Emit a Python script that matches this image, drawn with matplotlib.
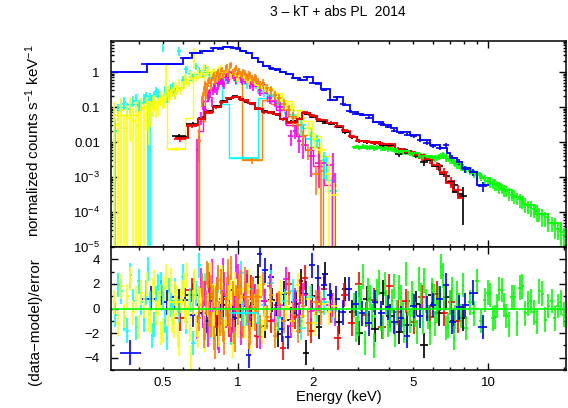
import numpy as np
import matplotlib
matplotlib.use('Agg')
import matplotlib.pyplot as plt
from matplotlib.ticker import FixedLocator, FixedFormatter, NullFormatter, MultipleLocator, FuncFormatter

plt.rcParams['font.family'] = ['Liberation Sans', 'DejaVu Sans']
plt.rcParams['mathtext.fontset'] = 'custom'
plt.rcParams['mathtext.rm'] = 'Liberation Sans'
plt.rcParams['mathtext.it'] = 'Liberation Sans:italic'
plt.rcParams['mathtext.default'] = 'regular'

# pgplot colour table
cols = {'black': '#000000', 'red': '#ff0000', 'green': '#00ff00', 'blue': '#0000ff',
        'cyan': '#00ffff', 'magenta': '#ff00ff', 'yellow': '#ffff00', 'orange': '#ff8000'}

## data: energy (keV), normalized counts, relative error, residual (data-model)/error

black_e = [0.58, 0.66, 0.72, 0.77, 0.82, 0.87, 0.92, 0.97, 1.03, 1.08,
           1.13, 1.20, 1.28, 1.36, 1.44, 1.52, 1.62, 1.70, 1.78, 1.87,
           1.98, 2.10, 2.22, 2.36, 2.52, 2.68, 2.86, 3.05, 3.28, 3.52,
           3.78, 4.05, 4.40, 4.75, 5.15, 5.55, 5.95, 6.35, 6.8, 7.3, 7.9]
black_f = [0.0150, 0.033, 0.050, 0.075, 0.105, 0.15, 0.175, 0.20, 0.17, 0.14,
           0.12, 0.088, 0.075, 0.070, 0.060, 0.046, 0.038, 0.040, 0.048, 0.064,
           0.053, 0.043, 0.036, 0.033, 0.029, 0.019, 0.0135, 0.0110, 0.0100, 0.0092,
           0.0078, 0.0082, 0.0045, 0.0055, 0.0042, 0.0026, 0.0030, 0.0020, 0.0011, 6.0e-4, 2.8e-4]
black_err = [0.15, 0.12, 0.10, 0.08, 0.07, 0.06, 0.06, 0.05, 0.05, 0.06,
             0.06, 0.07, 0.07, 0.07, 0.08, 0.08, 0.09, 0.09, 0.08, 0.07,
             0.07, 0.08, 0.08, 0.08, 0.09, 0.10, 0.11, 0.12, 0.12, 0.13,
             0.14, 0.14, 0.18, 0.16, 0.18, 0.22, 0.20, 0.25, 0.30, 0.35, 0.85]
black_r = [0.6, 1.1, -0.4, 0.9, -1.2, 0.3, 1.5, -0.8, 0.2, 1.8,
           -0.5, 2.6, -1.4, 0.7, -2.1, 1.2, -0.9, 0.4, 2.2, -3.6,
           1.0, -1.5, 2.8, 0.5, -1.1, 1.6, -0.3, -2.0, 0.8, -1.7,
           1.3, -0.6, -1.9, -1.3, 0.4, -3.0, 1.1, -0.4, 0.9, -1.0, -0.8]

red_e = [0.585, 0.655, 0.715, 0.765, 0.815, 0.865, 0.915, 0.965, 1.025, 1.075,
         1.125, 1.19, 1.27, 1.35, 1.43, 1.51, 1.60, 1.68, 1.76, 1.85,
         1.96, 2.08, 2.20, 2.34, 2.50, 2.66, 2.84, 3.03, 3.25, 3.50,
         3.76, 4.02, 4.35, 4.70, 5.05, 5.45, 5.85, 6.25, 6.65, 7.1, 7.6]
red_f = [0.0125, 0.029, 0.046, 0.068, 0.098, 0.135, 0.185, 0.19, 0.165, 0.150,
         0.125, 0.092, 0.070, 0.068, 0.062, 0.044, 0.036, 0.037, 0.046, 0.070,
         0.058, 0.046, 0.040, 0.036, 0.027, 0.022, 0.0145, 0.0108, 0.0105, 0.0095,
         0.0088, 0.0078, 0.0062, 0.0050, 0.0045, 0.0036, 0.0030, 0.0021, 0.0014, 7.5e-4, 4.3e-4]
red_err = [0.18, 0.13, 0.10, 0.09, 0.08, 0.07, 0.06, 0.05, 0.05, 0.06,
           0.06, 0.07, 0.07, 0.07, 0.08, 0.08, 0.09, 0.09, 0.08, 0.07,
           0.07, 0.08, 0.08, 0.08, 0.09, 0.10, 0.11, 0.12, 0.12, 0.13,
           0.14, 0.14, 0.16, 0.17, 0.18, 0.20, 0.22, 0.25, 0.30, 0.35, 0.40]
red_r = [-0.8, 1.5, 0.4, 1.2, -0.6, 0.8, -1.3, 0.2, 1.0, -0.4,
         1.7, -2.2, 0.6, -1.0, 0.3, -3.2, 2.0, -0.7, 1.4, 2.5,
         -1.8, 0.9, 1.6, -0.2, -2.4, 1.1, -1.2, 2.0, -0.5, 0.7,
         -1.5, 1.8, -0.3, 0.6, -1.1, 0.9, -0.7, 1.2, -0.4, 0.5, -1.0]

green_e = [2.90, 3.00, 3.10, 3.20, 3.31, 3.42, 3.54, 3.66, 3.78, 3.91,
           4.04, 4.18, 4.32, 4.47, 4.62, 4.78, 4.94, 5.11, 5.28, 5.46,
           5.65, 5.84, 6.04, 6.25, 6.46, 6.68, 6.91, 7.15, 7.39, 7.64,
           7.90, 8.17, 8.45, 8.74, 9.04, 9.35, 9.67, 10.0, 10.4, 10.8,
           11.3, 11.8, 12.4, 13.0, 13.7, 14.4, 15.2, 16.0, 16.9, 17.9,
           19.0, 20.1]
green_f = [0.0070, 0.0074, 0.0071, 0.0073, 0.0069, 0.0072, 0.0068, 0.0070, 0.0065, 0.0066,
           0.0062, 0.0060, 0.0058, 0.0055, 0.0052, 0.0050, 0.0046, 0.0044, 0.0042, 0.0040,
           0.0037, 0.0036, 0.0034, 0.0036, 0.0040, 0.0041, 0.0033, 0.0029, 0.0025, 0.0022,
           0.0019, 0.0017, 0.0015, 0.0013, 0.00115, 0.00105, 0.00090, 0.00078, 0.00068, 0.00058,
           0.00048, 0.00040, 0.00031, 0.00026, 0.00020, 0.00015, 0.00012, 9.0e-5, 7.0e-5, 5.0e-5,
           3.2e-5, 2.2e-5]
green_err = [0.10, 0.10, 0.10, 0.11, 0.11, 0.11, 0.12, 0.12, 0.12, 0.13,
             0.13, 0.13, 0.14, 0.14, 0.14, 0.15, 0.15, 0.15, 0.16, 0.16,
             0.17, 0.17, 0.18, 0.18, 0.18, 0.18, 0.19, 0.20, 0.21, 0.22,
             0.23, 0.24, 0.25, 0.26, 0.27, 0.28, 0.29, 0.30, 0.31, 0.32,
             0.33, 0.34, 0.35, 0.37, 0.38, 0.40, 0.42, 0.44, 0.46, 0.48,
             0.50, 0.55]
green_r = [0.3, -1.2, 0.8, -2.8, 1.5, -0.6, 0.2, 2.1, -1.5, 0.5,
           -0.9, 1.8, -0.3, 0.9, -1.8, 0.4, 1.2, -0.5, 2.4, -1.1,
           0.6, -2.0, 1.0, -0.2, 3.4, 0.8, -1.4, 1.6, -0.7, 0.3,
           1.9, -1.6, 0.5, -0.4, 2.2, -1.0, 0.7, 1.3, -0.8, 0.2,
           1.5, -0.6, 0.9, -1.2, 1.8, 0.4, -0.3, 1.4, -0.9, 0.6,
           0.2, -0.5]
# second detector channels interleaved with the above
green_e2 = [2.95, 3.05, 3.15, 3.26, 3.37, 3.48, 3.60, 3.72, 3.85, 3.98,
            4.11, 4.25, 4.40, 4.55, 4.70, 4.86, 5.02, 5.20, 5.37, 5.55,
            5.75, 5.94, 6.15, 6.36, 6.57, 6.80, 7.03, 7.27, 7.52, 7.77,
            10.2, 10.6, 11.05, 11.55, 12.1, 12.7, 13.35, 14.05, 14.8, 15.6,
            16.45, 17.4, 18.4, 19.5]
green_f2 = [0.0072, 0.0069, 0.0075, 0.0070, 0.0071, 0.0067, 0.0071, 0.0066, 0.0067, 0.0063,
            0.0062, 0.0058, 0.0057, 0.0053, 0.0051, 0.0048, 0.0046, 0.0043, 0.0041, 0.0039,
            0.0036, 0.0035, 0.0035, 0.0038, 0.0042, 0.0036, 0.0031, 0.0027, 0.0023, 0.0021,
            7.3e-4, 6.3e-4, 5.3e-4, 4.4e-4, 3.5e-4, 2.9e-4, 2.3e-4, 1.75e-4, 1.35e-4, 1.05e-4,
            8.0e-5, 6.0e-5, 4.2e-5, 2.8e-5]
green_err2 = [0.14, 0.14, 0.14, 0.15, 0.15, 0.15, 0.16, 0.16, 0.16, 0.17,
              0.17, 0.17, 0.18, 0.18, 0.18, 0.19, 0.19, 0.20, 0.20, 0.21,
              0.21, 0.22, 0.22, 0.22, 0.22, 0.23, 0.24, 0.25, 0.26, 0.27,
              0.35, 0.36, 0.37, 0.38, 0.40, 0.42, 0.44, 0.46, 0.48, 0.50,
              0.52, 0.55, 0.60, 0.65]
green_r2 = [-1.7, 1.0, 2.6, -0.4, 0.9, -3.0, 1.4, -0.8, 2.0, -1.3,
            0.6, -2.1, 1.7, -0.5, 2.8, -1.0, 0.3, -1.9, 1.1, 2.3,
            -0.7, 1.5, -1.2, 0.8, 2.7, -1.6, 0.5, -2.4, 1.2, -0.6,
            1.1, -0.7, 1.6, 0.3, -1.3, 0.9, 1.7, -0.4, 0.6, -1.1,
            1.2, 0.2, -0.8, 0.5]

blue_e = [0.37, 0.45, 0.49, 0.52, 0.56, 0.61, 0.66, 0.70, 0.75, 0.80,
          0.85, 0.90, 0.95, 1.00, 1.05, 1.10, 1.16, 1.22, 1.28, 1.35,
          1.42, 1.50, 1.58, 1.67, 1.76, 1.86, 1.97, 2.08, 2.20, 2.33,
          2.47, 2.62, 2.78, 2.95, 3.13, 3.32, 3.52, 3.74, 3.97, 4.21,
          4.47, 4.74, 5.03, 5.34, 5.67, 6.02, 6.39, 6.78, 7.19, 7.63,
          8.10, 8.70, 9.5]
blue_f = [1.0, 1.7, 1.65, 1.72, 1.68, 2.5, 3.5, 3.6, 4.1, 4.8,
          4.7, 5.1, 5.0, 4.7, 4.0, 3.5, 2.6, 1.95, 1.45, 1.30,
          1.15, 1.0, 0.85, 0.68, 0.60, 0.72, 0.50, 0.47, 0.31, 0.16,
          0.19, 0.12, 0.078, 0.065, 0.060, 0.050, 0.038, 0.032, 0.027, 0.021,
          0.0185, 0.016, 0.0145, 0.0115, 0.0092, 0.0078, 0.0068, 0.0080, 0.0036, 0.0027,
          0.0017, 0.0014, 5.5e-4]
blue_err = [0.04, 0.03, 0.03, 0.03, 0.03, 0.03, 0.03, 0.03, 0.03, 0.03,
            0.03, 0.03, 0.03, 0.03, 0.03, 0.03, 0.03, 0.03, 0.03, 0.03,
            0.04, 0.04, 0.04, 0.04, 0.04, 0.04, 0.05, 0.05, 0.05, 0.06,
            0.06, 0.06, 0.07, 0.07, 0.07, 0.08, 0.08, 0.08, 0.09, 0.09,
            0.10, 0.10, 0.11, 0.12, 0.13, 0.14, 0.15, 0.16, 0.18, 0.20,
            0.22, 0.25, 0.30]
blue_r = [-3.6, 0.8, 1.3, 0.5, 0.9, 0.7, -0.5, 0.3, -1.0, 0.6,
          -0.3, 1.0, -0.8, 0.4, 0.2, -3.8, 0.9, 4.4, 3.1, 2.6,
          -0.5, -1.7, -2.3, 0.5, -1.0, 1.2, 3.5, 2.5, 1.9, 1.1,
          0.8, -0.3, 1.6, 0.4, -0.4, -1.2, 0.5, -0.4, 0.1, -1.1,
          -0.8, -2.2, 0.2, -0.6, 0.0, 0.3, 0.8, 1.9, -1.1, 0.1,
          0.3, 1.3, -1.5]

cyan_e = [0.322, 0.340, 0.360, 0.380, 0.400, 0.420, 0.435, 0.445, 0.460, 0.480,
          0.500, 0.520, 0.540, 0.560, 0.580, 0.600, 0.620, 0.640, 0.660, 0.680,
          0.700, 0.720, 0.740, 0.770, 0.800, 0.830, 0.860, 0.900, 0.940, 0.980,
          1.03, 1.08, 1.14, 1.20, 1.27, 1.35, 1.44, 1.54, 1.65, 1.78,
          1.95, 2.06, 2.20, 2.38]
cyan_f = [0.02, 0.12, 0.09, 0.15, 0.11, 0.18, 0.10, 0.12, 0.22, 0.25,
          5.0, 0.20, 0.35, 0.25, 4.0, 0.6, 1.2, 0.9, 0.7, 1.5,
          1.1, 0.9, 1.3, 0.8, 1.0, 0.7, 0.9, 0.6, 0.75, 0.55,
          0.65, 0.45, 0.5, 0.35, 0.28, 0.22, 0.14, 0.10, 0.06, 0.03,
          0.012, 0.011, 0.003, 4e-4]
cyan_err = [1.3, 0.4, 0.45, 0.35, 0.4, 0.35, 1.2, 1.1, 0.3, 0.3,
            0.25, 0.35, 0.3, 0.3, 0.3, 0.25, 0.25, 0.25, 0.28, 0.23,
            0.23, 0.22, 0.2, 0.25, 0.2, 0.24, 0.22, 0.25, 0.23, 0.25,
            0.23, 0.27, 0.26, 0.28, 0.3, 0.3, 0.35, 0.4, 0.42, 0.5,
            0.65, 0.4, 0.7, 1.5]
cyan_r = [-0.5, 1.4, -1.8, 0.6, 2.2, -0.9, 3.2, 0.4, -1.3, 1.8,
          0.9, -2.4, 0.3, 1.5, -0.2, 2.6, -1.1, 0.7, -2.8, 1.2,
          3.5, -0.6, 1.9, -1.5, 0.5, 2.3, -1.0, 1.1, -2.0, 0.8,
          2.9, -0.4, 1.6, -1.2, 0.3, 2.1, -0.8, 0.6, 1.4, -1.6,
          0.9, -0.3, 0.5, -0.2]
cyan_e2 = [0.331, 0.35, 0.37, 0.39, 0.41, 0.427, 0.453, 0.47, 0.49, 0.51, 0.53, 0.55]
cyan_f2 = [0.08, 0.14, 0.1, 0.17, 0.13, 0.2, 0.16, 0.28, 0.2, 0.3, 0.26, 0.4]
cyan_err2 = [0.5, 0.4, 0.45, 0.35, 0.4, 0.35, 0.35, 0.3, 0.3, 0.3, 0.3, 0.28]
cyan_r2 = [1.9, -0.8, 2.7, -1.6, 0.5, 1.3, -2.2, 0.8, 2.0, -1.0, 1.5, -0.3]

magenta_e = [0.685, 0.695, 0.710, 0.725, 0.740, 0.755, 0.770, 0.785, 0.800, 0.820,
             0.840, 0.860, 0.880, 0.900, 0.920, 0.950, 0.980, 1.01, 1.04, 1.08,
             1.12, 1.17, 1.22, 1.28, 1.34, 1.40, 1.47, 1.55, 1.62, 1.68,
             1.75, 1.82, 1.95, 2.10, 2.40, 2.44]
magenta_f = [0.006, 0.009, 0.05, 0.12, 0.08, 0.2, 0.25, 0.15, 0.4, 0.3,
             0.5, 0.6, 0.45, 0.9, 0.7, 0.8, 0.6, 0.9, 0.55, 0.7,
             0.45, 0.5, 0.30, 0.35, 0.18, 0.15, 0.10, 0.05, 0.015, 0.02,
             0.011, 0.008, 0.004, 0.0025, 0.0022, 6e-4]
magenta_err = [1.1, 0.7, 0.4, 0.33, 0.38, 0.3, 0.28, 0.33, 0.25, 0.27,
               0.24, 0.23, 0.26, 0.22, 0.24, 0.22, 0.25, 0.22, 0.25, 0.24,
               0.27, 0.26, 0.3, 0.29, 0.33, 0.33, 0.4, 0.4, 0.47, 0.4,
               0.55, 0.6, 0.75, 0.8, 1.15, 1.2]
magenta_r = [-1.5, 0.8, 2.3, -0.6, 1.2, -2.1, 0.4, 3.0, -1.0, 1.6,
             -2.6, 0.9, 2.0, -0.3, 1.3, -1.8, 3.4, 0.2, -1.2, 2.1,
             -0.7, 1.0, -2.3, 0.6, 1.8, -0.9, 0.3, 2.4, -1.4, 0.7,
             -0.5, 1.1, -0.2, 0.8, 0.3, -0.4]
magenta_e2 = [0.762, 0.792, 0.81, 0.83, 0.85, 0.87, 0.89, 0.91, 0.935, 0.965,
              0.995, 1.025, 1.06, 1.10, 1.145]
magenta_f2 = [0.22, 0.3, 0.35, 0.42, 0.55, 0.5, 0.7, 0.6, 0.85, 0.7,
              0.75, 0.65, 0.6, 0.55, 0.4]
magenta_err2 = [0.3, 0.28, 0.27, 0.26, 0.24, 0.25, 0.23, 0.24, 0.22, 0.23,
                0.23, 0.24, 0.24, 0.25, 0.26]
magenta_r2 = [2.0, -1.1, 0.7, -2.4, 1.5, 3.1, -0.6, 1.9, -1.7, 0.4,
              2.6, -2.0, 1.2, -0.8, 1.6]

yellow_e = [0.320, 0.330, 0.340, 0.350, 0.360, 0.370, 0.380, 0.390, 0.400, 0.410,
            0.420, 0.430, 0.440, 0.455, 0.470, 0.485, 0.500, 0.515, 0.530, 0.545,
            0.560, 0.575, 0.590, 0.605, 0.620, 0.635, 0.650, 0.665, 0.680, 0.700,
            0.720, 0.740, 0.760, 0.780, 0.800, 0.820, 0.850, 0.880, 0.910, 0.940,
            0.970, 1.00, 1.04, 1.08, 1.12, 1.17, 1.22, 1.28, 1.34, 1.41,
            1.48, 1.56, 1.64, 1.73, 1.82, 1.92, 2.02, 2.15, 2.30, 2.42]
yellow_f = [0.06, 0.03, 0.08, 0.025, 0.05, 0.10, 0.04, 0.07, 0.03, 0.09,
            0.06, 0.11, 0.08, 0.13, 0.10, 0.18, 0.15, 1.0, 0.20, 0.28,
            0.22, 0.35, 0.30, 0.45, 0.60, 0.50, 0.75, 3.0, 0.65, 0.80,
            1.0, 0.7, 1.2, 0.9, 1.1, 0.8, 1.3, 0.9, 1.0, 0.75,
            0.9, 0.7, 0.85, 0.6, 0.7, 0.5, 0.45, 0.35, 0.30, 0.22,
            0.18, 0.12, 0.10, 0.06, 0.05, 0.025, 0.012, 0.006, 0.0012, 3e-4]
yellow_err = [1.3, 1.5, 1.2, 1.6, 1.3, 0.9, 1.4, 1.1, 1.5, 1.05,
              1.2, 0.8, 0.9, 0.6, 0.5, 0.4, 0.4, 0.85, 0.35, 0.3,
              0.3, 0.25, 0.25, 0.25, 0.25, 0.25, 0.2, 0.6, 0.2, 0.2,
              0.2, 0.2, 0.2, 0.2, 0.2, 0.2, 0.2, 0.2, 0.2, 0.2,
              0.2, 0.2, 0.2, 0.2, 0.2, 0.2, 0.22, 0.22, 0.25, 0.25,
              0.25, 0.3, 0.3, 0.3, 0.35, 0.4, 0.5, 0.6, 1.2, 1.3]
yellow_r = [0.5, -1.2, 1.8, -0.6, 1.0, 2.4, -0.3, 0.8, -1.5, 1.3,
            0.2, 2.0, -0.9, 1.5, -0.4, 0.9, -1.8, 2.6, 0.3, -1.0,
            1.2, -2.2, 0.6, 1.9, -0.7, 0.4, -4.0, 2.2, -1.3, 0.8,
            1.6, -2.5, 0.3, 2.8, -1.1, 0.5, 1.4, -1.9, 0.9, -0.5,
            2.0, -1.4, 0.7, 1.1, -2.7, 0.2, 1.7, -0.8, 0.6, -1.6,
            1.3, 0.1, -1.0, 1.9, -0.6, 0.8, -1.2, 0.4, -0.3, 0.2]
yellow_e2 = [0.448, 0.462, 0.478, 0.492, 0.507, 0.522, 0.537, 0.552, 0.567, 0.582,
             0.597, 0.612, 0.627, 0.642, 0.657, 0.672, 0.69, 0.71, 0.73, 0.75,
             0.79, 0.81, 0.835, 0.865, 0.895, 0.925, 0.955, 0.985, 1.02, 1.06,
             1.10, 1.145, 1.195, 1.25]
yellow_f2 = [0.09, 0.15, 0.12, 0.2, 0.17, 0.3, 0.25, 0.4, 0.32, 0.5,
             0.42, 0.7, 0.55, 0.9, 0.6, 0.8, 1.1, 0.85, 1.4, 0.95,
             1.0, 0.75, 1.15, 0.85, 1.2, 0.8, 1.0, 0.65, 0.9, 0.7,
             0.55, 0.6, 0.42, 0.4]
yellow_err2 = [0.7, 0.5, 0.55, 0.45, 0.45, 0.35, 0.35, 0.3, 0.3, 0.28,
               0.28, 0.25, 0.25, 0.22, 0.24, 0.22, 0.2, 0.2, 0.2, 0.2,
               0.2, 0.2, 0.2, 0.2, 0.2, 0.2, 0.2, 0.2, 0.2, 0.2,
               0.2, 0.2, 0.22, 0.22]
yellow_r2 = [-1.1, 2.1, 0.4, -2.0, 1.6, -0.5, 2.3, -1.4, 0.9, -2.9,
             1.3, -0.2, 2.7, -1.7, 0.5, 1.8, -2.2, 0.7, -0.9, 2.4,
             -1.3, 1.1, -2.1, 2.5, -0.4, 1.7, -3.0, 0.6, 1.4, -1.5,
             2.2, -0.7, 1.0, -1.9]

orange_e = [0.700, 0.715, 0.730, 0.745, 0.760, 0.775, 0.790, 0.805, 0.820, 0.835,
            0.850, 0.870, 0.890, 0.910, 0.930, 0.950, 0.970, 0.990, 1.01, 1.035,
            1.06, 1.09, 1.12, 1.15, 1.18, 1.22, 1.26, 1.30, 1.35, 1.40,
            1.46, 1.52, 1.59, 1.66, 1.74, 1.82, 1.90, 2.05, 2.15]
orange_f = [0.011, 0.15, 0.3, 0.25, 0.5, 0.4, 0.7, 0.55, 0.9, 0.7,
            1.1, 0.8, 1.3, 0.9, 1.5, 1.0, 1.2, 0.85, 1.1, 0.8,
            0.95, 0.7, 0.8, 0.6, 0.65, 0.45, 0.5, 0.35, 0.3, 0.22,
            0.18, 0.12, 0.08, 0.05, 0.03, 0.015, 0.006, 0.0012, 0.0015]
orange_err = [1.1, 0.35, 0.3, 0.3, 0.25, 0.27, 0.22, 0.24, 0.2, 0.22,
              0.2, 0.21, 0.19, 0.2, 0.18, 0.2, 0.19, 0.21, 0.2, 0.22,
              0.21, 0.23, 0.22, 0.24, 0.23, 0.26, 0.25, 0.28, 0.3, 0.32,
              0.33, 0.37, 0.4, 0.45, 0.5, 0.5, 0.5, 0.75, 1.1]
orange_r = [-0.8, 1.9, -2.2, 0.5, 2.7, -1.3, 0.9, -3.1, 1.5, -0.4,
            2.2, -1.7, 0.3, 3.0, -0.9, 1.2, -2.5, 0.7, 1.8, -1.1,
            2.4, -0.2, -2.0, 1.4, 0.6, -1.5, 2.0, -0.7, 1.1, -2.2,
            0.4, -1.0, 1.3, -0.5, -1.8, 0.2, -1.2, 0.5, -0.3]
orange_e2 = [0.722, 0.737, 0.752, 0.767, 0.782, 0.797, 0.812, 0.827, 0.842, 0.860,
             0.880, 0.900, 0.920, 0.940, 0.960, 0.980, 1.00, 1.022, 1.047, 1.075,
             1.105, 1.135, 1.165, 1.20]
orange_f2 = [0.2, 0.45, 0.35, 0.6, 0.5, 0.8, 0.65, 1.0, 0.75, 1.2,
             0.95, 1.4, 1.05, 1.6, 0.9, 1.3, 1.0, 0.9, 1.05, 0.75,
             0.9, 0.65, 0.7, 0.55]
orange_err2 = [0.32, 0.27, 0.28, 0.24, 0.25, 0.22, 0.23, 0.2, 0.22, 0.19,
               0.2, 0.18, 0.2, 0.17, 0.21, 0.19, 0.2, 0.21, 0.2, 0.23,
               0.22, 0.24, 0.23, 0.25]
orange_r2 = [1.2, -1.6, 2.9, -0.5, 1.7, -2.4, 0.8, 2.5, -1.2, 0.4,
             -2.8, 1.6, -0.6, 3.3, -1.9, 0.9, -0.3, 2.1, -1.4, 1.0,
             -2.3, 1.5, -0.8, 0.6]

# heavily grouped bins
wide_lo = [0.52, 0.915, 1.04]
wide_hi = [0.61, 1.20, 1.25]
wide_f = [0.0063, 0.0035, 0.0030]
wide_df = [0.0008, 0.0005, 0.0006]
wide_r = [0.5, -0.4, 0.9]
wide_col = ['yellow', 'cyan', 'orange']

## folded models (bin edges, values)
rb_edges = [0.56, 0.63, 0.69, 0.74, 0.79, 0.85, 0.90, 0.955, 1.02, 1.09,
            1.17, 1.26, 1.38, 1.47, 1.57, 1.72, 1.80, 1.94, 2.07, 2.27,
            2.49, 2.63, 2.80, 2.99, 3.22, 3.70, 4.24, 4.65, 5.10, 5.60,
            5.96, 6.42, 6.80, 7.20, 7.60, 7.95]
black_model = [0.014, 0.031, 0.046, 0.07, 0.10, 0.14, 0.18, 0.19, 0.16, 0.13,
               0.09, 0.072, 0.065, 0.045, 0.037, 0.045, 0.066, 0.054, 0.041, 0.034,
               0.027, 0.019, 0.014, 0.011, 0.0097, 0.0083, 0.0063, 0.0050, 0.0041, 0.0030,
               0.0021, 0.0012, 7.0e-4, 3.8e-4, 3.2e-4]
red_model = [0.013, 0.030, 0.045, 0.07, 0.10, 0.14, 0.18, 0.19, 0.16, 0.13,
             0.09, 0.072, 0.065, 0.045, 0.037, 0.045, 0.067, 0.055, 0.042, 0.035,
             0.028, 0.02, 0.014, 0.011, 0.0098, 0.0085, 0.0065, 0.0052, 0.0043, 0.0032,
             0.0022, 0.0013, 6.7e-4, 4.2e-4, 2.5e-4]
green_model_e = [2.85, 3.3, 3.8, 4.3, 4.8, 5.3, 5.9, 6.3, 6.8, 7.2,
                 7.8, 8.5, 9.3, 10.2, 11.2, 12.4, 13.8, 15.4, 17.3, 19.5, 20.7]
green_model = [0.0071, 0.0069, 0.0063, 0.0055, 0.0047, 0.0040, 0.0036, 0.0039, 0.0032, 0.0025,
               0.0018, 0.0013, 0.00092, 0.00065, 0.00043, 0.00027, 0.00016, 9e-5, 5e-5, 2.7e-5]
blue_model_e = [0.31, 0.433, 0.60, 0.655, 0.705, 0.79, 0.87, 0.955, 1.02, 1.07,
                1.14, 1.20, 1.26, 1.34, 1.47, 1.56, 1.66, 1.77, 1.89, 2.0,
                2.15, 2.33, 2.49, 2.63, 2.80, 3.0, 3.16, 3.47, 3.80, 4.10,
                4.33, 4.87, 5.34, 5.86, 6.42, 6.85, 7.04, 7.5, 7.86, 8.46,
                9.0, 10.1]
blue_model = [1.02, 1.69, 2.51, 3.56, 4.06, 4.75, 5.08, 4.75, 4.06, 3.49,
              2.56, 1.93, 1.45, 1.25, 1.0, 0.85, 0.67, 0.59, 0.72, 0.49,
              0.33, 0.159, 0.193, 0.114, 0.072, 0.064, 0.059, 0.037, 0.0306, 0.025,
              0.0193, 0.0159, 0.0114, 0.0082, 0.0067, 0.0049, 0.0035, 0.0027, 0.0018, 0.0014,
              5.9e-4]
cyan_model_e = [0.32, 0.36, 0.40, 0.45, 0.50, 0.55, 0.60, 0.65, 0.70, 0.75,
                0.80, 0.86, 0.915, 1.20, 1.30, 1.40, 1.52, 1.65, 1.80, 1.95,
                2.10, 2.25, 2.40]
cyan_model = [0.1, 0.12, 0.14, 0.2, 0.25, 0.35, 0.6, 0.9, 1.0, 1.0,
              0.9, 0.12, 0.0035, 0.18, 0.2, 0.13, 0.09, 0.05, 0.025, 0.012,
              0.004, 8e-4]
magenta_model_e = [0.685, 0.72, 0.76, 0.80, 0.85, 0.90, 0.96, 1.02, 1.10, 1.20,
                   1.30, 1.42, 1.55, 1.70, 1.85, 2.0, 2.2, 2.46]
magenta_model = [0.02, 0.15, 0.3, 0.5, 0.7, 0.8, 0.7, 0.55, 0.4, 0.25,
                 0.15, 0.08, 0.03, 0.015, 0.006, 0.002, 6e-4]
yellow_model_e = [0.32, 0.40, 0.46, 0.52, 0.61, 0.66, 0.72, 0.80, 0.88, 0.96,
                  1.05, 1.15, 1.26, 1.38, 1.50, 1.64, 1.80, 1.97, 2.15, 2.35, 2.45]
yellow_model = [0.06, 0.1, 0.15, 0.0063, 0.05, 0.7, 0.9, 1.0, 0.9, 0.8,
                0.65, 0.5, 0.35, 0.25, 0.15, 0.08, 0.04, 0.015, 0.004, 6e-4]
orange_model_e = [0.70, 0.74, 0.78, 0.83, 0.88, 0.94, 1.04, 1.25, 1.35, 1.46,
                  1.58, 1.70, 1.82, 1.95, 2.08, 2.19]
orange_model = [0.04, 0.5, 0.7, 0.9, 1.0, 0.9, 0.003, 0.16, 0.12, 0.085,
                0.055, 0.03, 0.016, 0.007, 0.003]


def half_widths(e):
    # contiguous bins: edges halfway (in log) between neighbouring channels
    e = np.asarray(e, dtype=float)
    mid = np.sqrt(e[:-1] * e[1:])
    lo = np.concatenate([[e[0] ** 2 / mid[0]], mid])
    hi = np.concatenate([mid, [e[-1] ** 2 / mid[-1]]])
    return np.vstack([e - lo, hi - e])


series = [
    ('black', black_e, black_f, black_err, black_r, rb_edges, black_model),
    ('red', red_e, red_f, red_err, red_r, rb_edges, red_model),
    ('green', green_e + green_e2, green_f + green_f2, green_err + green_err2, green_r + green_r2,
     green_model_e, green_model),
    ('blue', blue_e, blue_f, blue_err, blue_r, blue_model_e, blue_model),
    ('cyan', cyan_e + cyan_e2, cyan_f + cyan_f2, cyan_err + cyan_err2, cyan_r + cyan_r2,
     cyan_model_e, cyan_model),
    ('magenta', magenta_e + magenta_e2, magenta_f + magenta_f2, magenta_err + magenta_err2,
     magenta_r + magenta_r2, magenta_model_e, magenta_model),
    ('yellow', yellow_e + yellow_e2, yellow_f + yellow_f2, yellow_err + yellow_err2,
     yellow_r + yellow_r2, yellow_model_e, yellow_model),
    ('orange', orange_e + orange_e2, orange_f + orange_f2, orange_err + orange_err2,
     orange_r + orange_r2, orange_model_e, orange_model),
]
soft = ('cyan', 'magenta', 'yellow', 'orange')

fig = plt.figure(figsize=(5.68, 4.08), dpi=100)
ax1 = fig.add_axes([0.1954, 0.3946, 0.8015, 0.5049])
ax2 = fig.add_axes([0.1954, 0.0931, 0.8015, 0.3015], sharex=ax1)

lw = 1.2
for k, (name, e, f, rel, r, me, mv) in enumerate(series):
    c = cols[name]
    order = np.argsort(e)
    e = np.asarray(e)[order]
    f = np.asarray(f)[order]
    rel = np.asarray(rel)[order]
    r = np.asarray(r)[order]
    dy = f * rel
    dy_lo = np.where(dy >= f, f - 1e-9, dy)
    xe = half_widths(e)
    z = 2 + 0.1 * k
    ax1.errorbar(e, f, xerr=xe, yerr=[dy_lo, dy], fmt='none', ecolor=c, elinewidth=lw,
                 capsize=0, zorder=z)
    base = 1e-9 if name == 'orange' else None
    if name in soft:
        ax1.stairs(mv, me, color=c, lw=1.0, baseline=base, zorder=1.5)
    else:
        ax1.stairs(mv, me, color=c, lw=1.3, baseline=base, zorder=4 + 0.1 * k)
    ax2.errorbar(e, r, xerr=xe, yerr=1.0, fmt='none', ecolor=c, elinewidth=lw,
                 capsize=0, zorder=z)

wlo = np.asarray(wide_lo)
whi = np.asarray(wide_hi)
wc = np.sqrt(wlo * whi)
for i in range(len(wc)):
    c = cols[wide_col[i]]
    xe = [[wc[i] - wlo[i]], [whi[i] - wc[i]]]
    ax1.errorbar([wc[i]], [wide_f[i]], xerr=xe, yerr=[wide_df[i]], fmt='none', ecolor=c,
                 elinewidth=lw, capsize=0, zorder=3)
    ax2.errorbar([wc[i]], [wide_r[i]], xerr=xe, yerr=1.0, fmt='none', ecolor=c,
                 elinewidth=lw, capsize=0, zorder=3)

ax2.axhline(0, color=cols['green'], lw=1.2, zorder=10)

# axes
ax1.set_xscale('log')
ax1.set_yscale('log')
ax1.set_xlim(0.31, 20.5)
ax1.set_ylim(1e-5, 7.7)
ax2.set_ylim(-5, 5)

ytick_vals = [1e-5, 1e-4, 1e-3, 0.01, 0.1, 1]
ytick_labels = ['10$^{-5}$', '10$^{-4}$', '10$^{-3}$', '0.01', '0.1', '1']
ax1.yaxis.set_major_locator(FixedLocator(ytick_vals))
ax1.yaxis.set_major_formatter(FixedFormatter(ytick_labels))
minor_y = [m * 10.0 ** k for k in range(-5, 1) for m in range(2, 10)]
ax1.yaxis.set_minor_locator(FixedLocator(minor_y))
ax1.yaxis.set_minor_formatter(NullFormatter())

xmaj = [1, 10]
xmin = [0.4, 0.5, 0.6, 0.7, 0.8, 0.9, 2, 3, 4, 5, 6, 7, 8, 9, 20]
xlab = {0.5: '0.5', 2.0: '2', 5.0: '5'}
ax2.xaxis.set_major_locator(FixedLocator(xmaj))
ax2.xaxis.set_major_formatter(FixedFormatter(['1', '10']))
ax2.xaxis.set_minor_locator(FixedLocator(xmin))
ax2.xaxis.set_minor_formatter(FuncFormatter(lambda v, p: xlab.get(round(v, 3), '')))

ax2.yaxis.set_major_locator(FixedLocator([-4, -2, 0, 2, 4]))
ax2.yaxis.set_major_formatter(FixedFormatter(['\u22124', '\u22122', '0', '2', '4']))
ax2.yaxis.set_minor_locator(MultipleLocator(1))

for ax in (ax1, ax2):
    ax.tick_params(which='both', direction='in', top=True, right=True, width=1.0, labelsize=9.5)
    ax.tick_params(which='major', length=5)
    ax.tick_params(which='minor', length=2.5)
    ax.tick_params(axis='y', which='both', pad=8)
    for s in ax.spines.values():
        s.set_linewidth(1.1)
        s.set_zorder(12)
ax1.tick_params(axis='x', which='both', labelbottom=False)
ax2.tick_params(axis='x', which='both', pad=5)

ax1.set_ylabel('normalized counts s$^{-1}$ keV$^{-1}$', fontsize=11)
ax2.set_ylabel('(data\u2212model)/error', fontsize=11)
ax1.yaxis.set_label_coords(-0.152, 0.515)
ax2.yaxis.set_label_coords(-0.152, 0.39)
ax2.set_xlabel('Energy (keV)', fontsize=10.5)
ax2.xaxis.set_label_coords(0.5, -0.16)

fig.text(0.595, 0.970, '3 \u2013 kT + abs PL  2014', ha='center', va='center', fontsize=10)

fig.savefig('out.png', dpi=100)
plt.close()
